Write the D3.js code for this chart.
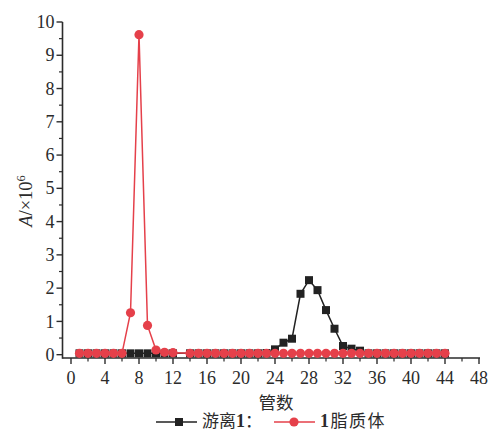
<!DOCTYPE html>
<html>
<head>
<meta charset="utf-8">
<script src="https://cdn.jsdelivr.net/npm/d3@7"></script>
<style>
  body { margin: 0; background: #fff; }
  svg text { fill: #2b2b2b; }
</style>
</head>
<body>
<svg id="chart" width="491" height="432"></svg>
<script>
// tube numbers (13 was not measured)
var tubes = [1,2,3,4,5,6,7,8,9,10,11,12,14,15,16,17,18,19,20,21,22,23,24,25,26,27,28,29,30,31,32,33,34,35,36,37,38,39,40,41,42,43,44];
var freeVals = [0.04,0.04,0.04,0.04,0.04,0.04,0.04,0.04,0.04,0.04,0.04,0.04,0.04,0.04,0.04,0.04,0.04,0.04,0.04,0.04,0.04,0.05,0.16,0.36,0.48,1.83,2.24,1.94,1.34,0.78,0.26,0.18,0.12,0.04,0.04,0.04,0.04,0.04,0.04,0.04,0.04,0.04,0.04];
var lipoVals = [0.04,0.04,0.04,0.04,0.04,0.04,1.26,9.62,0.88,0.14,0.07,0.06,0.04,0.04,0.04,0.04,0.04,0.04,0.04,0.04,0.04,0.04,0.04,0.04,0.04,0.04,0.04,0.04,0.04,0.04,0.04,0.04,0.04,0.04,0.04,0.04,0.04,0.04,0.04,0.04,0.04,0.04,0.04];
var xTicks = [0,4,8,12,16,20,24,28,32,36,40,44,48];
var yTicks = [0,1,2,3,4,5,6,7,8,9,10];

var svg = d3.select('#chart');
var plotL = 62.5, plotR = 479, plotT = 22, plotB = 358;

var x = d3.scaleLinear().domain([-1, 48]).range([plotL, plotR]);
var y = d3.scaleLinear().domain([-0.1, 10]).range([plotB, plotT]);

var axisColor = '#2b2b2b';
var serif = '"Liberation Serif", "DejaVu Serif", serif';
var cjk = '"Noto Sans CJK SC", sans-serif';

// minor ticks
var xMinor = d3.range(2, 48, 4);
var yMinor = d3.range(0.5, 10, 1);

var xg = svg.append('g').attr('transform', 'translate(0,' + plotB + ')');
xg.append('line').attr('x1', plotL).attr('x2', plotR + 1).attr('stroke', axisColor).attr('stroke-width', 1.6);
xg.selectAll('.maj').data(xTicks).enter().append('line')
  .attr('x1', d => x(d)).attr('x2', d => x(d)).attr('y1', 0).attr('y2', 6)
  .attr('stroke', axisColor).attr('stroke-width', 1.4);
xg.selectAll('.min').data(xMinor).enter().append('line')
  .attr('x1', d => x(d)).attr('x2', d => x(d)).attr('y1', 0).attr('y2', 3.5)
  .attr('stroke', axisColor).attr('stroke-width', 1.2);
xg.selectAll('.lbl').data(xTicks).enter().append('text')
  .attr('x', d => x(d)).attr('y', 26).attr('text-anchor', 'middle')
  .style('font-family', serif).style('font-size', '18px').text(d => d);

var yg = svg.append('g').attr('transform', 'translate(' + plotL + ',0)');
yg.append('line').attr('y1', plotT).attr('y2', plotB + 0.8).attr('stroke', axisColor).attr('stroke-width', 1.6);
yg.selectAll('.maj').data(yTicks).enter().append('line')
  .attr('y1', d => y(d)).attr('y2', d => y(d)).attr('x1', 0).attr('x2', -6)
  .attr('stroke', axisColor).attr('stroke-width', 1.4);
yg.selectAll('.min').data(yMinor).enter().append('line')
  .attr('y1', d => y(d)).attr('y2', d => y(d)).attr('x1', 0).attr('x2', -3.5)
  .attr('stroke', axisColor).attr('stroke-width', 1.2);
yg.selectAll('.lbl').data(yTicks).enter().append('text')
  .attr('x', -8).attr('y', d => y(d)).attr('dy', '0.34em').attr('text-anchor', 'end')
  .style('font-family', serif).style('font-size', '18px').text(d => d);

// axis titles
var yl = svg.append('text')
  .attr('transform', 'translate(32,201) rotate(-90)')
  .attr('text-anchor', 'middle')
  .style('font-family', serif).style('font-size', '18.5px');
yl.append('tspan').style('font-style', 'italic').text('A');
yl.append('tspan').text('/×10');
yl.append('tspan').attr('dy', -7).style('font-size', '12.5px').text('6');

svg.append('text').attr('x', 276).attr('y', 409).attr('text-anchor', 'middle')
  .style('font-family', cjk).style('font-size', '17.5px').text('管数');

// series
var freeData = tubes.map((t, i) => [t, freeVals[i]]);
var lipoData = tubes.map((t, i) => [t, lipoVals[i]]);
var line = d3.line().x(d => x(d[0])).y(d => y(d[1]));

var black = '#222222', red = '#e5404a';

svg.append('path').datum(freeData).attr('d', line)
  .attr('fill', 'none').attr('stroke', black).attr('stroke-width', 1.5);
svg.selectAll('.sq').data(freeData).enter().append('rect')
  .attr('x', d => x(d[0]) - 4).attr('y', d => y(d[1]) - 4)
  .attr('width', 8).attr('height', 8).attr('fill', black);

svg.append('path').datum(lipoData).attr('d', line)
  .attr('fill', 'none').attr('stroke', red).attr('stroke-width', 1.5);
svg.selectAll('.dot').data(lipoData).enter().append('circle')
  .attr('cx', d => x(d[0])).attr('cy', d => y(d[1])).attr('r', 4.6).attr('fill', red);

// legend
var lg = svg.append('g').attr('transform', 'translate(0,422)');
lg.append('line').attr('x1', 156).attr('x2', 197).attr('stroke', black).attr('stroke-width', 1.5);
lg.append('rect').attr('x', 175).attr('y', -4).attr('width', 8).attr('height', 8).attr('fill', black);
var t1 = lg.append('text').attr('x', 202).attr('y', 4.5)
  .style('font-family', cjk).style('font-size', '17px');
t1.append('tspan').text('游离');
t1.append('tspan').style('font-family', serif).style('font-weight', 'bold').style('font-size', '18px').text('1');
t1.append('tspan').text('：');
lg.append('line').attr('x1', 274).attr('x2', 315).attr('stroke', red).attr('stroke-width', 1.5);
lg.append('circle').attr('cx', 294).attr('cy', 0).attr('r', 4.6).attr('fill', red);
var t2 = lg.append('text').attr('x', 320).attr('y', 4.5)
  .style('font-family', cjk).style('font-size', '17px').style('letter-spacing', '1.5px');
t2.append('tspan').style('font-family', serif).style('font-weight', 'bold').style('font-size', '18px').text('1');
t2.append('tspan').text('脂质体');
</script>
</body>
</html>
